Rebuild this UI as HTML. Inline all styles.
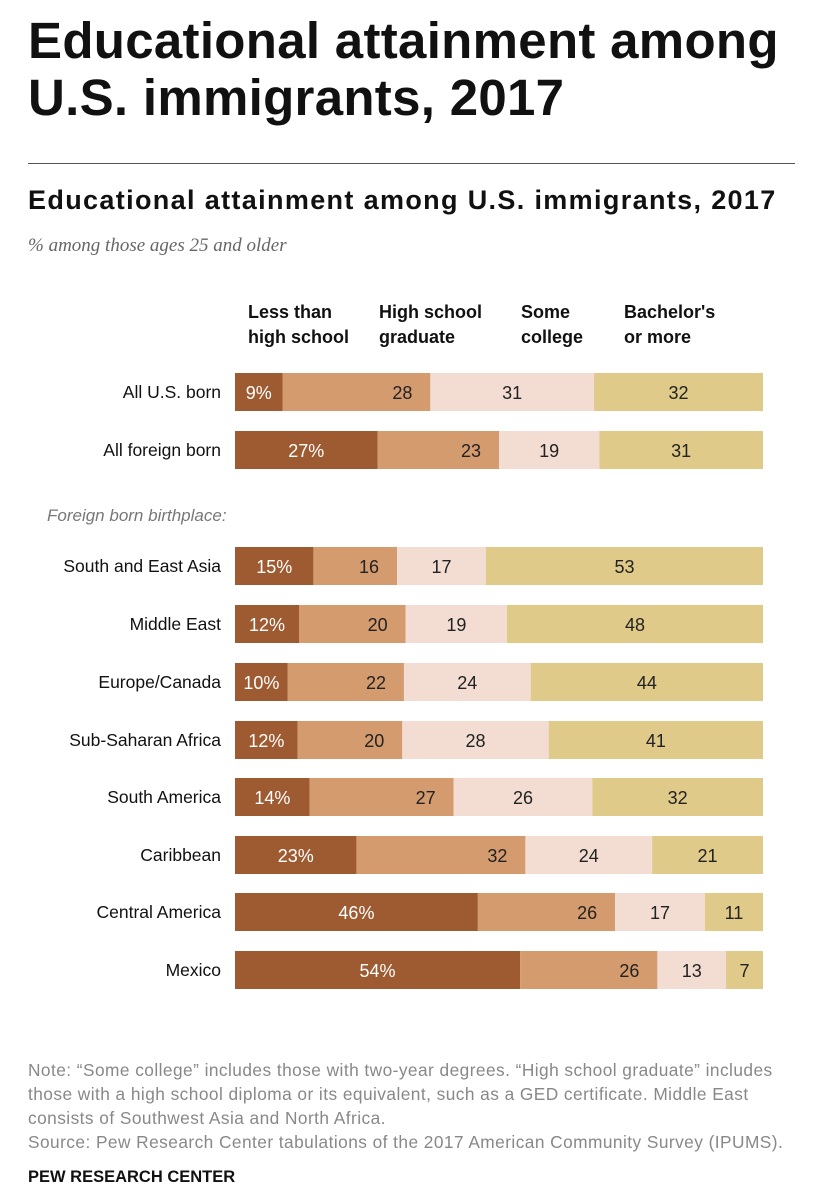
<!DOCTYPE html>
<html><head><meta charset="utf-8"><style>
body{margin:0;width:815px;height:1200px;background:#fff;font-family:"Liberation Sans",sans-serif;position:relative;overflow:hidden}
.a{position:absolute;white-space:nowrap}
</style></head><body>
<div class="a" style="left:28px;top:12px;font-size:51px;font-weight:bold;line-height:57px;color:#111;letter-spacing:0.3px">Educational attainment among<br>U.S. immigrants, 2017</div>
<div class="a" style="left:28px;top:163px;width:767px;height:1px;background:#555"></div>
<div class="a" style="left:28px;top:185px;font-size:27px;font-weight:bold;color:#111;letter-spacing:1.35px">Educational attainment among U.S. immigrants, 2017</div>
<div class="a" style="left:28px;top:235px;font-size:19px;font-style:italic;font-family:'Liberation Serif',serif;color:#666">% among those ages 25 and older</div>
<div class="a" style="left:248px;top:300px;font-size:18px;font-weight:bold;line-height:25px;color:#111">Less than<br>high school</div>
<div class="a" style="left:379px;top:300px;font-size:18px;font-weight:bold;line-height:25px;color:#111">High school<br>graduate</div>
<div class="a" style="left:521px;top:300px;font-size:18px;font-weight:bold;line-height:25px;color:#111">Some<br>college</div>
<div class="a" style="left:624px;top:300px;font-size:18px;font-weight:bold;line-height:25px;color:#111">Bachelor's<br>or more</div>
<div class="a" style="left:47px;top:506px;font-size:17px;font-style:italic;color:#777">Foreign born birthplace:</div>
<svg id="chart" class="a" style="left:0;top:0" width="815" height="1050"></svg>
<div class="a" style="left:28px;top:1058px;font-size:17.3px;line-height:24px;color:#888;letter-spacing:0.45px">Note: “Some college” includes those with two-year degrees. “High school graduate” includes<br>those with a high school diploma or its equivalent, such as a GED certificate. Middle East<br>consists of Southwest Asia and North Africa.<br>Source: Pew Research Center tabulations of the 2017 American Community Survey (IPUMS).</div>
<div class="a" style="left:28px;top:1168px;font-size:16.5px;font-weight:bold;color:#111">PEW RESEARCH CENTER</div>
<script>
const categories=["All U.S. born","All foreign born","South and East Asia","Middle East","Europe/Canada","Sub-Saharan Africa","South America","Caribbean","Central America","Mexico"];
const lessHS=[9,27,15,12,10,12,14,23,46,54];
const hsGrad=[28,23,16,20,22,20,27,32,26,26];
const someCollege=[31,19,17,19,24,28,26,24,17,13];
const bachelors=[32,31,53,48,44,41,32,21,11,7];
const rowY=[392,450,566,624,682,740,797,855,912,970];
const svg=document.getElementById('chart');
const NS='http://www.w3.org/2000/svg';
const x0=235,W=528,H=38;
const colors=['#9e5b32','#d49b6f','#f3ddd2','#dfca8a'];
const series=[lessHS,hsGrad,someCollege,bachelors];
const names=['less-than-hs','hs-grad','some-college','bachelors'];
function xs(v,tot){return v/tot*W;}
categories.forEach((c,i)=>{
  const t=document.createElementNS(NS,'text');
  
  
  t.setAttribute('x',221);t.setAttribute('y',rowY[i]+6);t.setAttribute('text-anchor','end');
  t.setAttribute('font-size','17.5');t.setAttribute('fill','#111');t.textContent=c;svg.appendChild(t);
  const tot=series.reduce((s,a)=>s+a[i],0);
  let cx=x0;
  series.forEach((arr,k)=>{
    const w=xs(arr[i],tot);
    const r=document.createElementNS(NS,'rect');
    
    
    r.setAttribute('x',cx);r.setAttribute('y',rowY[i]-H/2);r.setAttribute('width',w);r.setAttribute('height',H);r.setAttribute('fill',colors[k]);
    svg.appendChild(r);
    const l=document.createElementNS(NS,'text');
    
    
    let lx=cx+w/2;
    if(k===1) lx=cx+w-28;
    l.setAttribute('x',lx);l.setAttribute('y',rowY[i]+7);l.setAttribute('text-anchor','middle');
    l.setAttribute('font-size','18');l.setAttribute('fill',k===0?'#fff':'#222');
    l.textContent=arr[i]+(k===0?'%':'');
    svg.appendChild(l);
    cx+=w;
  });
});
</script>
</body></html>
